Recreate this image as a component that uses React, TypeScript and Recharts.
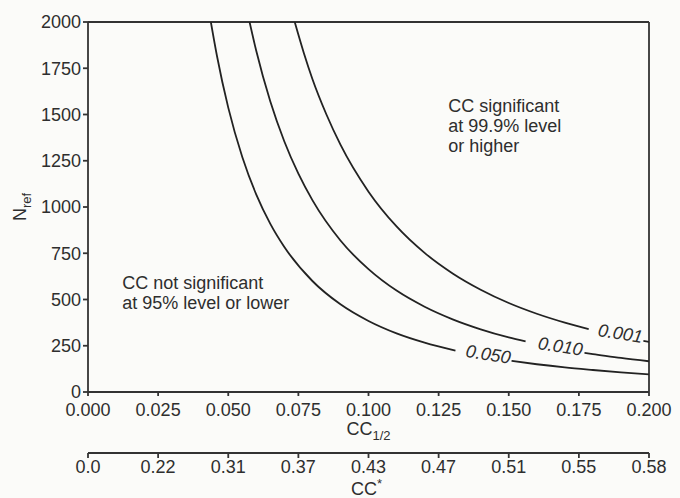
import React from 'react';
import { LineChart, Line, XAxis, YAxis, ReferenceLine, ReferenceDot, Label } from 'recharts';

// Axis ticks
const ccTicks = [0, 0.025, 0.05, 0.075, 0.1, 0.125, 0.15, 0.175, 0.2];
const ccStarLabels = ['0.0', '0.22', '0.31', '0.37', '0.43', '0.47', '0.51', '0.55', '0.58'];
const nTicks = [0, 250, 500, 750, 1000, 1250, 1500, 1750, 2000];

// Curve p = 0.050 (null = gap for label)
const cc050 = [0.0438, 0.046, 0.05, 0.055, 0.06, 0.065, 0.07, 0.08, 0.09, 0.1, 0.11, 0.12, 0.131, 0.14, 0.151, 0.16, 0.17, 0.18, 0.19, 0.2];
const n050 = [2000, 1815, 1537, 1270, 1067, 909, 784, 600, 474, 384, 317, 267, 224, null, 168, 150, 133, 119, 106, 95];

// Curve p = 0.010
const cc010 = [0.0576, 0.06, 0.065, 0.07, 0.075, 0.08, 0.09, 0.1, 0.11, 0.12, 0.13, 0.14, 0.15, 0.156, 0.165, 0.177, 0.18, 0.19, 0.2];
const n010 = [2000, 1843, 1570, 1354, 1180, 1037, 819, 664, 548, 461, 393, 339, 295, 273, null, 211, 205, 184, 166];

// Curve p = 0.001
const cc001 = [0.0737, 0.077, 0.08, 0.085, 0.09, 0.1, 0.11, 0.12, 0.13, 0.14, 0.15, 0.16, 0.17, 0.1785, 0.19, 0.198, 0.2];
const n001 = [2000, 1830, 1692, 1500, 1337, 1083, 895, 752, 641, 553, 481, 423, 375, 340, null, 276, 271];

// Curve labels (text, anchor position in data units)
const curveLabelText = ['0.050', '0.010', '0.001'];
const curveLabelCC = [0.1427, 0.1684, 0.1898];
const curveLabelN = [203, 246, 316];

// Region annotations
const leftNote = ['CC not significant', 'at 95% level or lower'];
const rightNote = ['CC significant', 'at 99.9% level', 'or higher'];

const build = (xs: number[], ys: (number | null)[]) => xs.map((cc, i) => ({ cc, n: ys[i] }));
const data050 = build(cc050, n050);
const data010 = build(cc010, n010);
const data001 = build(cc001, n001);

const FONT = '"Liberation Sans", Arial, Helvetica, sans-serif';
const INK = '#2e2e2e';
const AX = '#333333';

const noteShape = (lines: string[]) => (p: any) => (
  <text x={p.cx} y={p.cy} fill={INK} fontSize={18} fontFamily={FONT} textAnchor="start">
    {lines.map((l, i) => (
      <tspan key={i} x={p.cx} dy={i === 0 ? 0 : 20}>{l}</tspan>
    ))}
  </text>
);

const curveLabelShape = (t: string) => (p: any) => (
  <text
    x={p.cx}
    y={p.cy}
    fill={INK}
    fontSize={18}
    fontStyle="italic"
    fontFamily={FONT}
    textAnchor="middle"
    dominantBaseline="central"
    transform={`rotate(9, ${p.cx}, ${p.cy})`}
  >
    {t}
  </text>
);

const XTitle1 = (props: any) => {
  const vb = props.viewBox;
  const cx = vb.x + vb.width / 2;
  return (
    <text x={cx} y={vb.y + 43} fill={INK} fontSize={18} fontFamily={FONT} textAnchor="middle">
      CC<tspan fontSize={13} dy={5}>1/2</tspan>
    </text>
  );
};

const XTitle2 = (props: any) => {
  const vb = props.viewBox;
  const cx = vb.x + vb.width / 2;
  return (
    <text x={cx - 2} y={vb.y + 42} fill={INK} fontSize={18} fontFamily={FONT} textAnchor="middle">
      CC<tspan fontSize={13} dy={-7}>*</tspan>
    </text>
  );
};

const YTitle = () => {
  const x = 26;
  const y = 207;
  return (
    <text
      x={x}
      y={y}
      fill={INK}
      fontSize={18}
      fontFamily={FONT}
      textAnchor="middle"
      transform={`rotate(-90, ${x}, ${y})`}
    >
      N<tspan fontSize={13} dy={5}>ref</tspan>
    </text>
  );
};

export default function App() {
  const tickStyle = { fill: INK, fontSize: 18, fontFamily: FONT };
  return (
    <div style={{ position: 'absolute', left: 0, top: 0, width: 680, height: 498, background: '#fbfbf9' }}>
      <LineChart width={680} height={498} margin={{ top: 22, right: 31, left: 0, bottom: 0 }}>
        <XAxis
          xAxisId={0}
          dataKey="cc"
          type="number"
          domain={[0, 0.2]}
          ticks={ccTicks}
          allowDataOverflow
          tickFormatter={(v: number) => v.toFixed(3)}
          height={61}
          tick={tickStyle}
          tickSize={4}
          tickMargin={7}
          stroke={AX}
          strokeWidth={1.8}
          interval={0}
        >
          <Label content={XTitle1} />
        </XAxis>
        <XAxis
          xAxisId="star"
          dataKey="cc"
          type="number"
          domain={[0, 0.2]}
          ticks={ccTicks}
          allowDataOverflow
          tickFormatter={(v: number) => {
            const i = ccTicks.findIndex((t) => Math.abs(t - v) < 1e-9);
            return i >= 0 ? ccStarLabels[i] : '';
          }}
          height={45}
          tick={tickStyle}
          tickSize={5}
          tickMargin={2}
          stroke={AX}
          strokeWidth={1.8}
          interval={0}
        >
          <Label content={XTitle2} />
        </XAxis>
        <YAxis
          type="number"
          domain={[0, 2000]}
          ticks={nTicks}
          allowDataOverflow
          width={88}
          tick={tickStyle}
          tickSize={5}
          tickMargin={2}
          stroke={AX}
          strokeWidth={1.8}
          interval={0}
        >
          <Label content={YTitle} />
        </YAxis>
        <ReferenceLine y={2000} stroke={AX} strokeWidth={1.8} />
        <ReferenceLine x={0.2} stroke={AX} strokeWidth={1.8} />
        <Line data={data050} dataKey="n" type="monotone" stroke="#222" strokeWidth={1.8} dot={false} isAnimationActive={false} connectNulls={false} />
        <Line data={data010} dataKey="n" type="monotone" stroke="#222" strokeWidth={1.8} dot={false} isAnimationActive={false} connectNulls={false} />
        <Line data={data001} dataKey="n" type="monotone" stroke="#222" strokeWidth={1.8} dot={false} isAnimationActive={false} connectNulls={false} />
        {/* invisible carrier so the CC* axis gets its ticks */}
        <Line xAxisId="star" data={data050} dataKey="n" stroke="none" strokeWidth={0} dot={false} activeDot={false} isAnimationActive={false} legendType="none" />
        {curveLabelText.map((t, i) => (
          <ReferenceDot key={t} x={curveLabelCC[i]} y={curveLabelN[i]} r={0} shape={curveLabelShape(t)} />
        ))}
        <ReferenceDot x={0.0122} y={559} r={0} shape={noteShape(leftNote)} />
        <ReferenceDot x={0.1284} y={1511} r={0} shape={noteShape(rightNote)} />
      </LineChart>
    </div>
  );
}
